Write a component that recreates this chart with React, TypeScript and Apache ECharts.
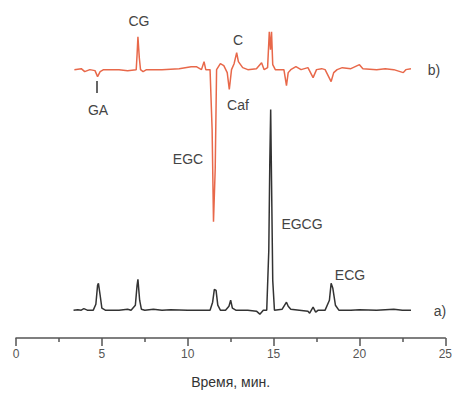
import React, { useEffect, useRef } from "react";
import * as echarts from "echarts";

// Trace a) (black): retention time (min) and signal
const timeA = [3.35, 3.6, 3.8, 3.95, 4.15, 4.5, 4.65, 4.75, 4.8, 4.9, 5.0, 5.2, 6.0, 6.5, 6.7, 6.95, 7.05, 7.1, 7.2, 7.3, 7.5, 8.0, 8.5, 9.0, 10.0, 11.0, 11.3, 11.45, 11.55, 11.65, 11.75, 11.9, 12.2, 12.4, 12.5, 12.6, 12.8, 13.5, 14.0, 14.2, 14.4, 14.6, 14.72, 14.78, 14.83, 14.88, 14.95, 15.05, 15.5, 15.75, 15.85, 16.0, 16.5, 17.0, 17.1, 17.3, 17.45, 17.6, 18.0, 18.25, 18.35, 18.45, 18.6, 18.8, 19.5, 20.0, 21.0, 22.0, 22.5, 23.0];
const signalA = [0, 0.5, 0, 1.5, 0, 0, 6, 25, 27, 15, 2, 0, 0, 1, 0, 5, 25, 31, 10, 1, 0, 1, 0, 0.5, 0, 0, 0, 8, 21, 20, 5, 0, 0, 4, 10, 2, 0, 0, -1, -4, 0, 0, 60, 150, 202, 130, 30, 0, 1, 8, 4, 1, 0, -1, -3, 3, -2, 0, 0, 10, 27, 22, 5, 0, 0, 0.5, 0, 1, 0, 0];

// Trace b) (red): retention time (min) and signal
const timeB = [3.4, 3.8, 4.0, 4.3, 4.6, 4.75, 4.9, 5.1, 6.0, 6.5, 7.0, 7.05, 7.1, 7.18, 7.25, 7.4, 7.6, 8.5, 9.5, 10.2, 10.5, 10.8, 10.95, 11.05, 11.3, 11.42, 11.5, 11.6, 11.68, 11.9, 12.1, 12.3, 12.42, 12.55, 12.7, 12.85, 12.95, 13.2, 13.5, 14.0, 14.3, 14.45, 14.65, 14.75, 14.82, 14.88, 14.95, 15.1, 15.6, 15.75, 15.85, 16.0, 16.3, 16.6, 17.0, 17.3, 17.5, 17.8, 18.0, 18.35, 18.5, 18.7, 19.0, 19.5, 20.0, 20.2, 21.0, 21.5, 22.0, 22.55, 22.7, 23.0];
const signalB = [0, 1, -2, 0, -1, -7, -2, 0, 0, -1, 0, 15, 33, 12, 0, -2, 0, 0, 1, 3, 3, 0, 8, 0, 0, -60, -153, -100, 0, 6, 4, -3, -20, 0, 6, 17, 8, 2, 0, 1, 7, 0, 2, 38, 20, 38, 5, 0, 0, -16, -3, 0, 3, 0, 2, -8, 0, 1, 0, -12, -3, 0, 2, 1, 5, 1, 0, 1, 0, -3, 0, 1];
const offsetB = 242;

const xTicks = [0, 5, 10, 15, 20, 25];

const labels = [
  { text: "CG", x: 139, y: 21 },
  { text: "GA", x: 98, y: 110 },
  { text: "C", x: 238, y: 40 },
  { text: "Caf", x: 238, y: 105 },
  { text: "EGC", x: 188, y: 159 },
  { text: "EGCG", x: 302, y: 224 },
  { text: "ECG", x: 350, y: 275 },
  { text: "b)", x: 434, y: 70 },
  { text: "a)", x: 440, y: 311 },
];

export default function App() {
  const ref = useRef<HTMLDivElement>(null);
  useEffect(() => {
    document.body.style.margin = "0";
    if (!ref.current) return;
    const chart = echarts.init(ref.current, null, { renderer: "svg" });
    const font = "'Liberation Sans', Arial, sans-serif";
    chart.setOption({
      animation: false,
      grid: { left: 16, right: 8, top: 10, bottom: 54 },
      xAxis: {
        type: "value",
        min: xTicks[0],
        max: xTicks[xTicks.length - 1],
        interval: 5,
        name: "Время, мин.",
        nameLocation: "middle",
        nameGap: 37,
        nameTextStyle: { fontSize: 14, color: "#333", fontFamily: font },
        axisLine: { show: true, onZero: false, lineStyle: { color: "#555", width: 1.5 } },
        axisTick: { show: true, length: 8, lineStyle: { color: "#555", width: 1.5 } },
        minorTick: { show: true, splitNumber: 2, length: 4, lineStyle: { color: "#555", width: 1.5 } },
        axisLabel: { fontSize: 12, color: "#555", margin: 10, fontFamily: font },
        splitLine: { show: false },
      },
      yAxis: {
        type: "value",
        min: -28,
        max: 302,
        show: false,
        splitLine: { show: false },
      },
      series: [
        {
          type: "line",
          data: timeA.map((t, i) => [t, signalA[i]]),
          showSymbol: false,
          lineStyle: { color: "#333", width: 1.5 },
          itemStyle: { color: "#333" },
        },
        {
          type: "line",
          data: timeB.map((t, i) => [t, signalB[i] + offsetB]),
          showSymbol: false,
          lineStyle: { color: "#e8684a", width: 1.5 },
          itemStyle: { color: "#e8684a" },
        },
      ],
      graphic: [
        ...labels.map((l) => ({
          type: "text",
          x: l.x,
          y: l.y,
          style: {
            text: l.text,
            fill: "#444",
            font: `14px ${font}`,
            textAlign: "center",
            textVerticalAlign: "middle",
          },
        })),
        {
          type: "line",
          shape: { x1: 97, y1: 81, x2: 97, y2: 93 },
          style: { stroke: "#333", lineWidth: 1.5 },
        },
      ],
    });
    return () => chart.dispose();
  }, []);
  return <div ref={ref} style={{ width: 455, height: 394 }} />;
}
